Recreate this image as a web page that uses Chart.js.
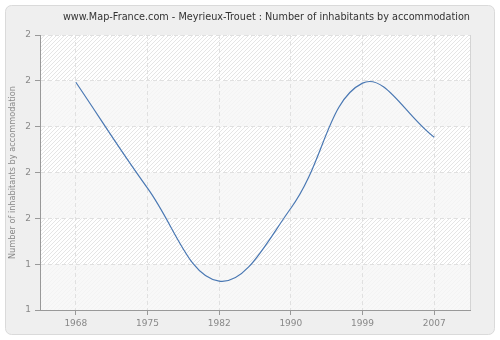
<!DOCTYPE html>
<html>
<head>
<meta charset="utf-8">
<title>Meyrieux-Trouet</title>
<script src="https://cdn.jsdelivr.net/npm/chart.js@4/dist/chart.umd.min.js"></script>
<style>
  html, body { margin: 0; padding: 0; background: #fff; }
  #chart { display: block; }
</style>
</head>
<body>
<canvas id="chart" width="500" height="340"></canvas>
<script>
/* ── data ───────────────────────────── */
const years = ['1968', '1975', '1982', '1990', '1999', '2007'];
const inhabitantsPerHome = [1.797, 1.566, 1.363, 1.522, 1.795, 1.677];
const yMin = 1.3;
const yMax = 1.9;
const yStep = 0.1;

const FONT = "'DejaVu Sans', Verdana, sans-serif";

/* ── hatch pattern for the plot area ── */
function makeHatch() {
  const c = document.createElement('canvas');
  c.width = 4; c.height = 4;
  const g = c.getContext('2d');
  g.fillStyle = '#ffffff';
  g.fillRect(0, 0, 4, 4);
  g.fillStyle = '#e5e5e5';
  for (let i = 0; i < 4; i++) g.fillRect(i, 3 - i, 1, 1);
  return c;
}

const backdrop = {
  id: 'backdrop',
  beforeDraw(chart) {
    const { ctx, chartArea: a, scales } = chart;
    ctx.save();
    // outer panel
    ctx.fillStyle = '#ffffff';
    ctx.fillRect(0, 0, chart.width, chart.height);
    ctx.beginPath();
    ctx.roundRect(5.5, 5.5, chart.width - 11, chart.height - 11, 6);
    ctx.fillStyle = '#efefef';
    ctx.fill();
    ctx.strokeStyle = '#dadada';
    ctx.lineWidth = 1;
    ctx.stroke();

    // plot area: hatched, with every other band flattened
    ctx.fillStyle = ctx.createPattern(makeHatch(), 'repeat');
    ctx.fillRect(a.left, a.top, a.right - a.left, a.bottom - a.top);
    const ticks = scales.y.ticks;
    ctx.fillStyle = 'rgba(246,246,246,0.8)';
    for (let i = 0; i < ticks.length - 1; i += 2) {
      const y1 = scales.y.getPixelForValue(ticks[i].value);
      const y2 = scales.y.getPixelForValue(ticks[i + 1].value);
      ctx.fillRect(a.left, y2, a.right - a.left, y1 - y2);
    }
    // light right edge
    ctx.strokeStyle = '#d4d4d4';
    ctx.beginPath();
    ctx.moveTo(Math.round(a.right) + 0.5, a.top);
    ctx.lineTo(Math.round(a.right) + 0.5, a.bottom);
    ctx.stroke();
    ctx.restore();
  }
};

const gridCommon = {
  color: '#e0e0e0',
  lineWidth: 1,
  tickColor: '#999999',
  tickLength: 5
};

new Chart(document.getElementById('chart'), {
  type: 'line',
  data: {
    labels: years,
    datasets: [{
      label: 'Number of inhabitants by accommodation',
      data: inhabitantsPerHome,
      borderColor: '#4a78b3',
      borderWidth: 1.2,
      pointRadius: 0,
      tension: 0.4,
      fill: false
    }]
  },
  options: {
    responsive: false,
    animation: false,
    devicePixelRatio: 1,
    layout: { padding: { left: 0, right: 30, top: 0, bottom: 0 } },
    plugins: {
      legend: { display: false },
      tooltip: { enabled: false },
      title: {
        display: true,
        text: 'www.Map-France.com - Meyrieux-Trouet : Number of inhabitants by accommodation',
        align: 'end',
        fullSize: false,
        color: '#333333',
        font: { family: FONT, size: 9.7, weight: 'normal', lineHeight: 1.2 },
        padding: { top: 11.2, bottom: 12.2 }
      }
    },
    scales: {
      x: {
        type: 'category',
        offset: true,
        grid: gridCommon,
        border: { display: true, color: '#999999', width: 1, dash: [4, 3] },
        ticks: {
          color: '#888888',
          font: { family: FONT, size: 9 },
          padding: 3,
          maxRotation: 0
        },
        afterFit: (s) => { s.height = 30; }
      },
      y: {
        min: yMin,
        max: yMax,
        grid: gridCommon,
        border: { display: true, color: '#999999', width: 1, dash: [4, 3] },
        ticks: {
          stepSize: yStep,
          color: '#888888',
          font: { family: FONT, size: 9 },
          padding: 4,
          callback: (v) => Math.round(v)
        },
        title: {
          display: true,
          text: 'Number of inhabitants by accommodation',
          color: '#888888',
          font: { family: FONT, size: 8.2 },
          padding: { top: 8, bottom: 0 }
        },
        afterFit: (s) => { s.width = 40; }
      }
    }
  },
  plugins: [backdrop]
});
</script>
</body>
</html>
